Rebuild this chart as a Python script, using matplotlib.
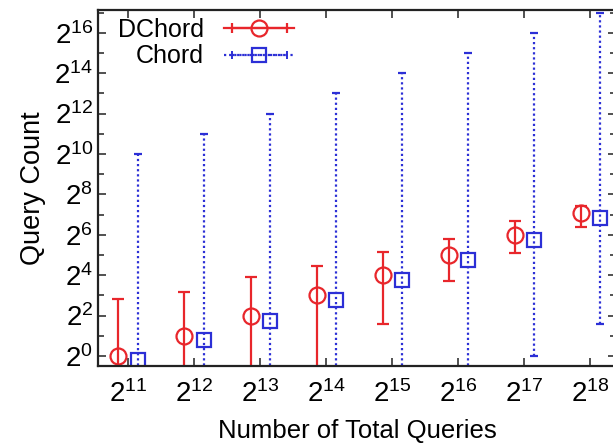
import numpy as np
import matplotlib
matplotlib.use("Agg")
import matplotlib.pyplot as plt
from matplotlib.lines import Line2D
from matplotlib.legend_handler import HandlerLine2D, HandlerTuple

plt.rcParams["font.family"] = ["Liberation Sans", "DejaVu Sans"]
plt.rcParams["mathtext.fontset"] = "custom"
plt.rcParams["mathtext.rm"] = "Liberation Sans"
plt.rcParams["mathtext.it"] = "Liberation Sans"

# x: number of total queries (powers of two)
total_queries = [2**11, 2**12, 2**13, 2**14, 2**15, 2**16, 2**17, 2**18]

# DChord: mean, min, max query count
dchord_mean = [1.0, 2.0, 4.0, 8.0, 16.0, 32.0, 64.5, 133.0]
dchord_low = [0, 0, 0, 0, 3.0, 13.0, 34.0, 83.0]
dchord_high = [7.0, 9.1, 14.9, 22.0, 35.8, 55.0, 104.0, 172.0]

# Chord: mean, min, max query count
chord_mean = [0.87, 1.74, 3.36, 6.8, 13.5, 26.9, 54.0, 113.0]
chord_low = [0, 0, 0, 0, 0, 0, 1.0, 3.0]
chord_high = [1024, 2048, 4096, 8192, 16384, 32768, 65536, 131072]

RED = "#e8262b"
BLUE = "#2c2fd6"
DOT = (0, (1, 1.3))

ylo, yhi = 2**-0.5, 2**17.13
dodge = 0.145  # in log2 units

fig = plt.figure(figsize=(6.13, 4.44), dpi=100)
ax = fig.add_axes([98 / 613, 1 - 366 / 444, (616 - 98) / 613, (366 - 10) / 444])

x = np.array(total_queries, dtype=float)


def draw(xs, mean, low, high, color, marker, ms, ls, capsize):
    mean = np.array(mean)
    low = np.maximum(np.array(low, dtype=float), ylo * 0.5)
    high = np.array(high, dtype=float)
    err = [mean - low, high - mean]
    c = ax.errorbar(xs, mean, yerr=err, fmt=marker, color=color, ms=ms,
                    mfc="none", mec=color, mew=1.6, elinewidth=1.6,
                    capsize=capsize, capthick=1.4)
    c[2][0].set_linestyle(ls)
    return c


draw(x * 2**-dodge, dchord_mean, dchord_low, dchord_high, RED, "o", 11.5, "-", 4)
draw(x * 2**dodge, chord_mean, chord_low, chord_high, BLUE, "s", 10.5, DOT, 3)

ax.set_xscale("log", base=2)
ax.set_yscale("log", base=2)
ax.set_xlim(2**10.545, 2**18.39)
ax.set_ylim(ylo, yhi)

ax.set_xticks(total_queries)
ax.set_xticklabels([f"$2^{{{int(np.log2(v))}}}$" for v in total_queries])
ax.set_xticks([], minor=True)
ax.set_yticks([2.0**k for k in range(0, 17, 2)])
ax.set_yticklabels([f"$2^{{{k}}}$" for k in range(0, 17, 2)])
ax.set_yticks([2.0**k for k in range(1, 18, 2)], minor=True)
ax.set_yticklabels([], minor=True)

ax.tick_params(which="both", direction="in", top=True, right=True,
               labelsize=20, width=1.2, color="#333333")
ax.tick_params(which="major", length=6)
ax.tick_params(which="minor", length=4)
ax.tick_params(axis="x", pad=10)
for s in ax.spines.values():
    s.set_linewidth(1.6)
    s.set_color("#222222")

ax.set_xlabel("Number of Total Queries", fontsize=18.5, labelpad=8)
ax.set_ylabel("Query Count", fontsize=19.5, labelpad=6)

# legend handles: horizontal error bar with caps and marker in the middle
d_mark = Line2D([], [], color=RED, lw=1.6, marker="o", ms=11.5, mfc="none", mew=1.6)
d_caps = Line2D([], [], color=RED, lw=1.6, marker="|", ms=7, mew=1.6)
c_mark = Line2D([], [], color=BLUE, lw=1.6, ls=DOT, marker="s", ms=10.5, mfc="none", mew=1.6)
c_caps = Line2D([], [], color=BLUE, lw=1.6, ls=DOT, marker="|", ms=6, mew=1.4)

leg = ax.legend([(d_caps, d_mark), (c_caps, c_mark)], ["DChord", "Chord"],
                handler_map={tuple: HandlerTuple(ndivide=1, pad=0),
                             d_caps: HandlerLine2D(numpoints=2),
                             c_caps: HandlerLine2D(numpoints=2),
                             d_mark: HandlerLine2D(numpoints=1),
                             c_mark: HandlerLine2D(numpoints=1)},
                loc="upper left", bbox_to_anchor=(0.01, 1.02), frameon=False,
                fontsize=18, markerfirst=False, handlelength=2.8,
                labelspacing=0.1, handletextpad=0.8, borderaxespad=0.2)

fig.savefig("out.png", dpi=100)
